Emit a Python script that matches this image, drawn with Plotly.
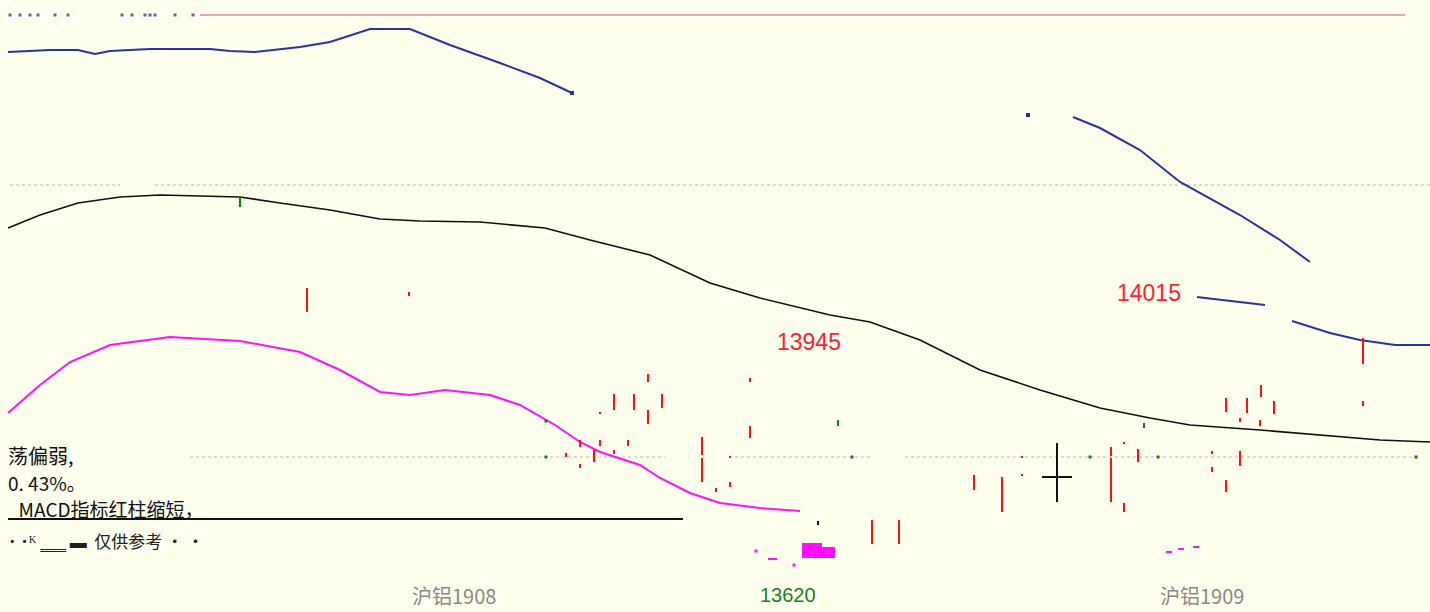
import plotly.graph_objects as go

# ---- data (screen-level units: x = bar position, y = level, larger y = lower on chart) ----
blue_segments = [
    ([8, 50, 78, 95, 110, 150, 210, 230, 255, 280, 300, 330, 370, 410, 450, 500, 540, 572],
     [52, 50, 50, 54, 51, 49, 49, 51, 52, 49, 47, 42, 29, 29, 45, 63, 78, 93]),
    ([1073, 1100, 1140, 1180, 1240, 1280, 1310],
     [117, 128, 150, 182, 215, 240, 262]),
    ([1197, 1230, 1265], [297, 301, 305]),
    ([1292, 1330, 1360, 1395, 1430], [321, 333, 340, 345, 345]),
]
blue_dots_x = [572, 1028]
blue_dots_y = [93, 115]

ma_x = [8, 40, 78, 120, 160, 200, 240, 280, 330, 380, 420, 480, 545, 590, 650, 710, 760,
        830, 870, 920, 980, 1040, 1100, 1150, 1190, 1260, 1320, 1380, 1430]
ma_y = [228, 215, 203, 197, 195, 196, 197, 203, 210, 219, 221, 222, 228, 240, 255, 283, 298,
        315, 322, 340, 370, 390, 408, 418, 425, 430, 435, 440, 442]

mag_x = [8, 40, 70, 110, 170, 240, 300, 340, 380, 410, 445, 490, 520, 555, 580, 600, 640,
         660, 690, 720, 760, 800]
mag_y = [413, 385, 362, 345, 337, 341, 352, 370, 392, 395, 390, 395, 405, 425, 442, 452, 465,
         478, 493, 503, 508, 511]

top_line_x = [200, 1405]
top_line_y = [15, 15]
top_dots_x = [10, 20, 30, 38, 55, 68, 122, 132, 145, 150, 155, 175, 193]

red_x = [307, 409, 648, 614, 634, 662, 648, 600, 580, 600, 628, 614, 566, 594, 580, 702, 702,
         750, 750, 716, 730, 730, 872, 899, 974, 1002, 1022, 1022, 1111, 1111, 1124, 1124, 1138,
         1212, 1212, 1226, 1226, 1247, 1240, 1260, 1274, 1240, 1261, 1363, 1363]
red_y0 = [288, 292, 374, 394, 394, 394, 410, 412, 440, 440, 440, 450, 453, 450, 464, 437, 458,
          378, 426, 488, 482, 456, 520, 520, 475, 477, 456, 474, 447, 458, 442, 503, 449,
          451, 467, 398, 480, 398, 418, 420, 401, 451, 385, 338, 401]
red_y1 = [312, 296, 382, 410, 410, 408, 424, 414, 447, 446, 446, 454, 457, 462, 468, 455, 482,
          382, 438, 492, 487, 458, 544, 544, 490, 512, 458, 476, 456, 502, 444, 512, 462,
          454, 472, 412, 492, 413, 422, 426, 414, 466, 397, 364, 406]

green_x = [240, 838, 1144]
green_y0 = [196, 420, 423]
green_y1 = [207, 426, 428]
green_dot_x = [546, 546, 852, 1090, 1158, 1416]
green_dot_y = [421, 457, 457, 457, 457, 457]

mag_dash_x = [[1166, 1172], [1178, 1184], [1193, 1199], [768, 777]]
mag_dash_y = [552, 549, 547, 559]
mag_dot_x = [756, 794]
mag_dot_y = [551, 565]
mag_block_x = [[802, 822], [822, 835]]
mag_block_y = [[543, 558], [547, 558]]

grid_levels = [185, 457]
grid_segments = {185: [(10, 120), (155, 1430)], 457: [(190, 665), (735, 870), (905, 1420)]}

cross_x, cross_y = 1057, 477

fig = go.Figure()

# grid dotted lines
for lvl in grid_levels:
    xs, ys = [], []
    for a, b in grid_segments[lvl]:
        xs += [a, b, None]
        ys += [lvl, lvl, None]
    fig.add_trace(go.Scatter(x=xs, y=ys, mode="lines",
                             line=dict(color="#B8B8B0", width=1, dash="dot"), hoverinfo="skip"))

# top pink line + dots
fig.add_trace(go.Scatter(x=top_line_x, y=top_line_y, mode="lines",
                         line=dict(color="#E8A8B8", width=2), hoverinfo="skip"))
fig.add_trace(go.Scatter(x=top_dots_x, y=[15] * len(top_dots_x), mode="markers",
                         marker=dict(color="#6060C0", size=3, symbol="square"), hoverinfo="skip"))

# blue line segments
for xs, ys in blue_segments:
    fig.add_trace(go.Scatter(x=xs, y=ys, mode="lines",
                             line=dict(color="#2832A8", width=2), hoverinfo="skip"))
fig.add_trace(go.Scatter(x=blue_dots_x, y=blue_dots_y, mode="markers",
                         marker=dict(color="#2832A8", size=4, symbol="square"), hoverinfo="skip"))

# MA black line
fig.add_trace(go.Scatter(x=ma_x, y=ma_y, mode="lines",
                         line=dict(color="#101010", width=1.6), hoverinfo="skip"))

# magenta line
fig.add_trace(go.Scatter(x=mag_x, y=mag_y, mode="lines",
                         line=dict(color="#FF10FF", width=2), hoverinfo="skip"))

# red ticks
rx, ry = [], []
for x, a, b in zip(red_x, red_y0, red_y1):
    rx += [x, x, None]
    ry += [a, b, None]
fig.add_trace(go.Scatter(x=rx, y=ry, mode="lines",
                         line=dict(color="#FF1010", width=2), hoverinfo="skip"))

# green ticks + dots
gx, gy = [], []
for x, a, b in zip(green_x, green_y0, green_y1):
    gx += [x, x, None]
    gy += [a, b, None]
fig.add_trace(go.Scatter(x=gx, y=gy, mode="lines",
                         line=dict(color="#108010", width=2), hoverinfo="skip"))
fig.add_trace(go.Scatter(x=green_dot_x, y=green_dot_y, mode="markers",
                         marker=dict(color="#108010", size=3, symbol="square"), hoverinfo="skip"))

# magenta dashes, dots, blocks
mx, my = [], []
for (a, b), y in zip(mag_dash_x, mag_dash_y):
    mx += [a, b, None]
    my += [y, y, None]
fig.add_trace(go.Scatter(x=mx, y=my, mode="lines",
                         line=dict(color="#FF10FF", width=2), hoverinfo="skip"))
fig.add_trace(go.Scatter(x=mag_dot_x, y=mag_dot_y, mode="markers",
                         marker=dict(color="#FF10FF", size=3, symbol="square"), hoverinfo="skip"))
for (x0, x1), (y0, y1) in zip(mag_block_x, mag_block_y):
    fig.add_trace(go.Scatter(x=[x0, x1, x1, x0, x0], y=[y0, y0, y1, y1, y0], mode="lines",
                             fill="toself", fillcolor="#FF10FF",
                             line=dict(color="#FF10FF", width=0), hoverinfo="skip"))

# small black tick
fig.add_trace(go.Scatter(x=[818, 818], y=[521, 525], mode="lines",
                         line=dict(color="#101010", width=2), hoverinfo="skip"))

# cross
fig.add_trace(go.Scatter(x=[cross_x, cross_x, None, cross_x - 15, cross_x + 15],
                         y=[cross_y - 34, cross_y + 25, None, cross_y, cross_y],
                         mode="lines", line=dict(color="#101010", width=2), hoverinfo="skip"))

# underline of commentary
fig.add_trace(go.Scatter(x=[8, 683], y=[519, 519], mode="lines",
                         line=dict(color="#101010", width=2), hoverinfo="skip"))

# ---- text ----
cjk = "Noto Sans CJK SC"
texts = [
    (6, 455, "荡偏弱,", "#101010", 20),
    (6, 482, "0. 43%。", "#101010", 19),
    (6, 508, "_MACD指标红柱缩短，", "#101010", 19),
    (6, 540, "˙ ˙ᴷ ‗‗‗ ▬  仅供参考 · ·", "#202020", 17),
]
for x, y, t, c, s in texts:
    fig.add_annotation(x=x, y=y, text=t, showarrow=False, xanchor="left", yanchor="middle",
                       font=dict(family=cjk, size=s, color=c))

price_labels = [(775, 342, "13945"), (1115, 293, "14015")]
for x, y, t in price_labels:
    fig.add_annotation(x=x, y=y, text=t, showarrow=False, xanchor="left", yanchor="middle",
                       font=dict(family="Liberation Sans", size=23, color="#FF2030"))

bottom_labels = [(410, 595, "沪铝1908", "#888888"), (758, 595, "13620", "#208020"),
                 (1158, 595, "沪铝1909", "#888888")]
for x, y, t, c in bottom_labels:
    fig.add_annotation(x=x, y=y, text=t, showarrow=False, xanchor="left", yanchor="middle",
                       font=dict(family=cjk if "沪" in t else "Liberation Sans", size=20, color=c))

fig.update_layout(
    width=1430, height=612,
    margin=dict(l=0, r=0, t=0, b=0),
    paper_bgcolor="#FFFFEE", plot_bgcolor="#FFFFEE",
    showlegend=False,
    xaxis=dict(range=[0, 1430], visible=False, fixedrange=True),
    yaxis=dict(range=[612, 0], visible=False, fixedrange=True),
)

fig.write_html("out.html", config={"displayModeBar": False},
               post_script="document.body.style.margin='0';document.body.style.overflow='hidden';")
